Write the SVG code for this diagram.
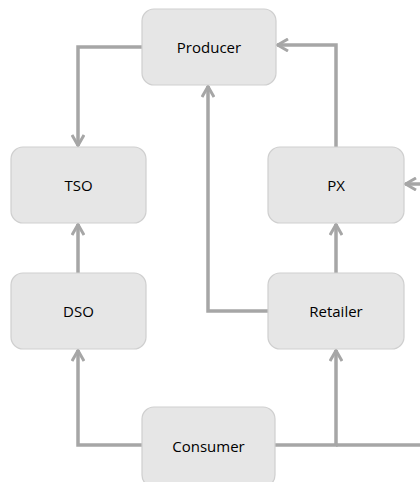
<svg xmlns="http://www.w3.org/2000/svg" width="420" height="482" viewBox="0 0 420 482">
<style>
.node rect{fill:#e6e6e6;stroke:#cfcfcf;stroke-width:1.2}
.node text{font-family:"Open Sans","Liberation Sans",Arial,sans-serif;font-size:15px;fill:#000;text-anchor:middle;dominant-baseline:central}
.edge{fill:none;stroke:#a6a6a6;stroke-width:3.5}
</style>
<defs>
<marker id="arr" viewBox="0 0 14 14" refX="12.5" refY="7" markerWidth="14" markerHeight="14" markerUnits="userSpaceOnUse" orient="auto">
<polyline points="1.5,1 12,7 1.5,13" fill="none" stroke="#a6a6a6" stroke-width="3" stroke-linejoin="miter"/>
</marker>
</defs>
<rect width="420" height="482" fill="#fff"/>
<g id="connectors">
<path class="edge" d="M142,47 H78 V146" marker-end="url(#arr)"/>
<path class="edge" d="M336,147 V45 H277" marker-end="url(#arr)"/>
<path class="edge" d="M268,311 H208 V86" marker-end="url(#arr)"/>
<path class="edge" d="M78,273 V224" marker-end="url(#arr)"/>
<path class="edge" d="M336,273 V224" marker-end="url(#arr)"/>
<path class="edge" d="M142,445 H78 V350" marker-end="url(#arr)"/>
<path class="edge" d="M275,445 H336 V350" marker-end="url(#arr)"/>
<path class="edge" d="M336,445 H420"/>
<path class="edge" d="M422,184 H405" marker-end="url(#arr)"/>
</g>
<g id="producer" class="node"><rect x="142" y="9" width="134" height="76" rx="12"/><text x="209" y="47">Producer</text></g>
<g id="tso" class="node"><rect x="11" y="147" width="135" height="76" rx="12"/><text x="78.5" y="185">TSO</text></g>
<g id="px" class="node"><rect x="268" y="147" width="136" height="76" rx="12"/><text x="336" y="185">PX</text></g>
<g id="dso" class="node"><rect x="11" y="273" width="135" height="76" rx="12"/><text x="78.5" y="311">DSO</text></g>
<g id="retailer" class="node"><rect x="268" y="273" width="136" height="76" rx="12"/><text x="336" y="311">Retailer</text></g>
<g id="consumer" class="node"><rect x="142" y="407" width="133" height="80" rx="12"/><text x="208.5" y="446">Consumer</text></g>
</svg>
